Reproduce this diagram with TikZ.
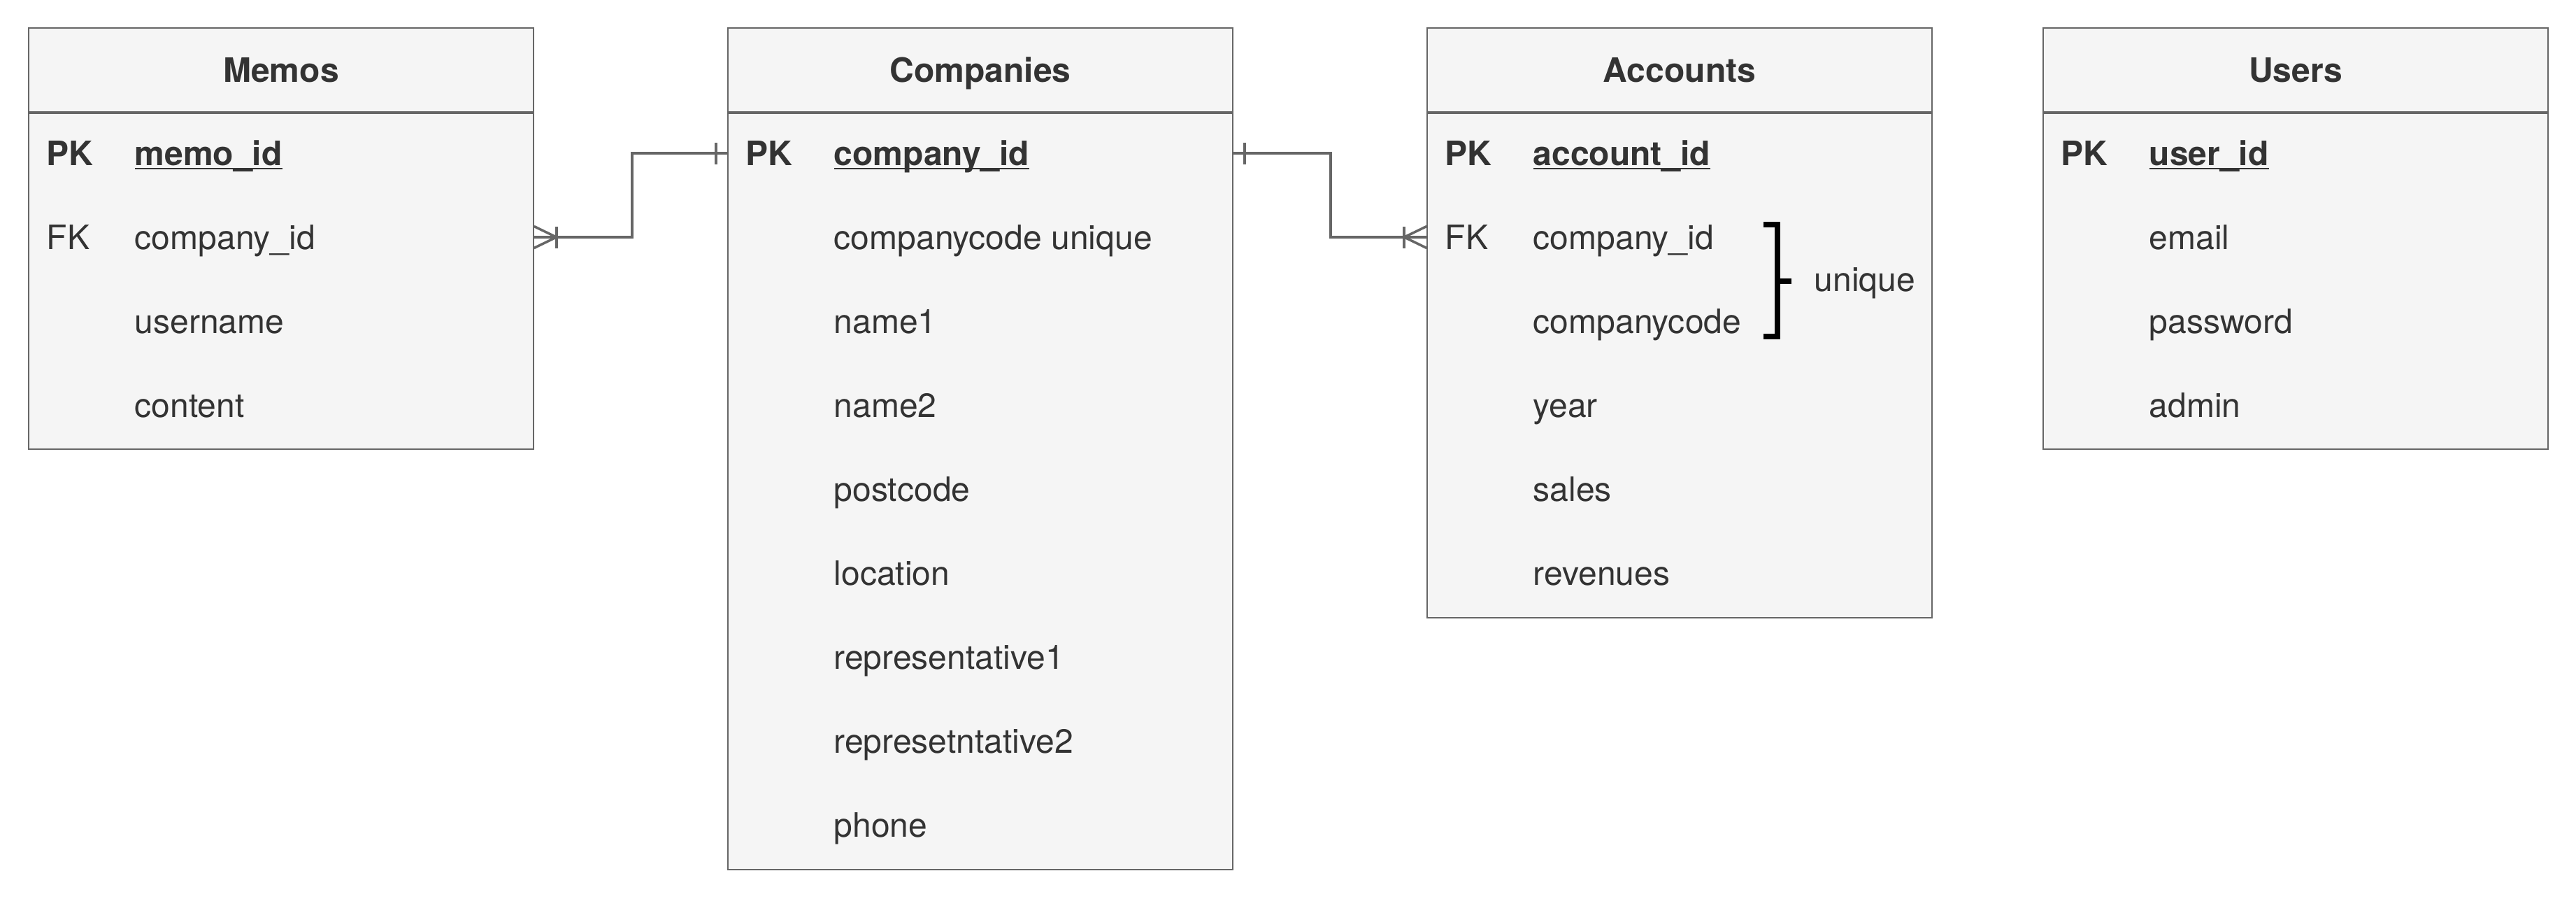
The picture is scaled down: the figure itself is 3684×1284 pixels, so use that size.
\documentclass[tikz,border=0pt]{standalone}
\usepackage{fontspec}
\setmainfont{TeX Gyre Heros}
\usepackage{xcolor}
\usepackage{tikz}
\usetikzlibrary{positioning,decorations.markings}

\definecolor{erfill}{HTML}{F5F5F5}
\definecolor{erline}{HTML}{666666}
\definecolor{ertext}{HTML}{333333}

\tikzset{
  tablehead/.style={draw=erline, fill=erfill, line width=0.6pt, minimum width=7.21cm, minimum height=1.2cm,
    inner sep=0pt, text=ertext, font=\bfseries, text height=0.345cm, text depth=0pt},
  tablebody/.style={draw=erline, fill=erfill, line width=0.6pt, minimum width=7.21cm, inner sep=0pt},
  keycol/.style={anchor=west, inner sep=0pt, text=ertext, text height=0.345cm, text depth=0pt},
  pkcol/.style={keycol, font=\bfseries},
  relation/.style={draw=erline, line width=1pt},
  one start/.style={postaction={decorate, decoration={markings, mark=at position 0.16cm with
    {\draw[relation] (0,-0.155cm) -- (0,0.155cm);}}}},
  one end/.style={postaction={decorate, decoration={markings, mark=at position -0.16cm with
    {\draw[relation] (0,-0.155cm) -- (0,0.155cm);}}}},
  many start/.style={postaction={decorate, decoration={markings, mark=at position 0.32cm with
    {\draw[relation] (0,-0.155cm) -- (0,0.155cm);
     \draw[relation] (-0.32cm,0.155cm) -- (0,0) -- (-0.32cm,-0.155cm);}}}},
  many end/.style={postaction={decorate, decoration={markings, mark=at position -0.32cm with
    {\draw[relation] (0,-0.155cm) -- (0,0.155cm);
     \draw[relation] (0.32cm,0.155cm) -- (0,0) -- (0.32cm,-0.155cm);}}}},
  uniquebracket/.style={draw=black, line width=2.1pt}
}

\newcommand{\pkname}[1]{\underline{\smash{#1}}}

\begin{document}
\fontsize{13.66pt}{16pt}\selectfont
\begin{tikzpicture}[x=0.01cm, y=-0.01cm]
\useasboundingbox (0,0) rectangle (3684,1284);

% Memos
\node[tablehead] (memos) at (402,100) {Memos};
\node[tablebody, minimum height=4.8cm, below=0pt of memos] (memosbody) {};
\node[pkcol] (memopk) at (66,219) {PK};
\node[pkcol] (memoid) at (192,219) {\pkname{memo\_id}};
\node[keycol] (memofk) at (66,339) {FK};
\node[keycol] (memocompany) at (192,339) {company\_id};
\node[keycol] (memouser) at (192,459) {username};
\node[keycol] (memocontent) at (192,579) {content};

% Companies
\node[tablehead] (comp) at (1402,100) {Companies};
\node[tablebody, minimum height=10.8cm, below=0pt of comp] (compbody) {};
\node[pkcol] (comppk) at (1066,219) {PK};
\node[pkcol] (compid) at (1192,219) {\pkname{company\_id}};
\node[keycol] (compcode) at (1192,339) {companycode unique};
\node[keycol] (compname1) at (1192,459) {name1};
\node[keycol] (compname2) at (1192,579) {name2};
\node[keycol] (comppost) at (1192,699) {postcode};
\node[keycol] (comploc) at (1192,819) {location};
\node[keycol] (comprep1) at (1192,939) {representative1};
\node[keycol] (comprep2) at (1192,1059) {represetntative2};
\node[keycol] (compphone) at (1192,1179) {phone};

% Accounts
\node[tablehead] (acct) at (2402,100) {Accounts};
\node[tablebody, minimum height=7.2cm, below=0pt of acct] (acctbody) {};
\node[pkcol] (acctpk) at (2066,219) {PK};
\node[pkcol] (acctid) at (2192,219) {\pkname{account\_id}};
\node[keycol] (acctfk) at (2066,339) {FK};
\node[keycol] (acctcompany) at (2192,339) {company\_id};
\node[keycol] (acctcode) at (2192,459) {companycode};
\node[keycol] (acctyear) at (2192,579) {year};
\node[keycol] (acctsales) at (2192,699) {sales};
\node[keycol] (acctrev) at (2192,819) {revenues};
\node[keycol] (acctunique) at (2594,399) {unique};
\draw[uniquebracket] (2522,321) -| (2542,481) -- (2522,481);
\draw[uniquebracket] (2542,402) -- (2562,402);

% Users
\node[tablehead] (users) at (3283,100) {Users};
\node[tablebody, minimum height=4.8cm, below=0pt of users] (usersbody) {};
\node[pkcol] (userpk) at (2947,219) {PK};
\node[pkcol] (userid) at (3073,219) {\pkname{user\_id}};
\node[keycol] (usermail) at (3073,339) {email};
\node[keycol] (userpass) at (3073,459) {password};
\node[keycol] (useradmin) at (3073,579) {admin};

% relations
\draw[relation, many start, one end] (memosbody.east |- memofk) -- ++(140,0) |- (compbody.west |- comppk);
\draw[relation, one start, many end] (compbody.east |- comppk) -- ++(139,0) |- (acctbody.west |- acctfk);
\end{tikzpicture}
\end{document}
